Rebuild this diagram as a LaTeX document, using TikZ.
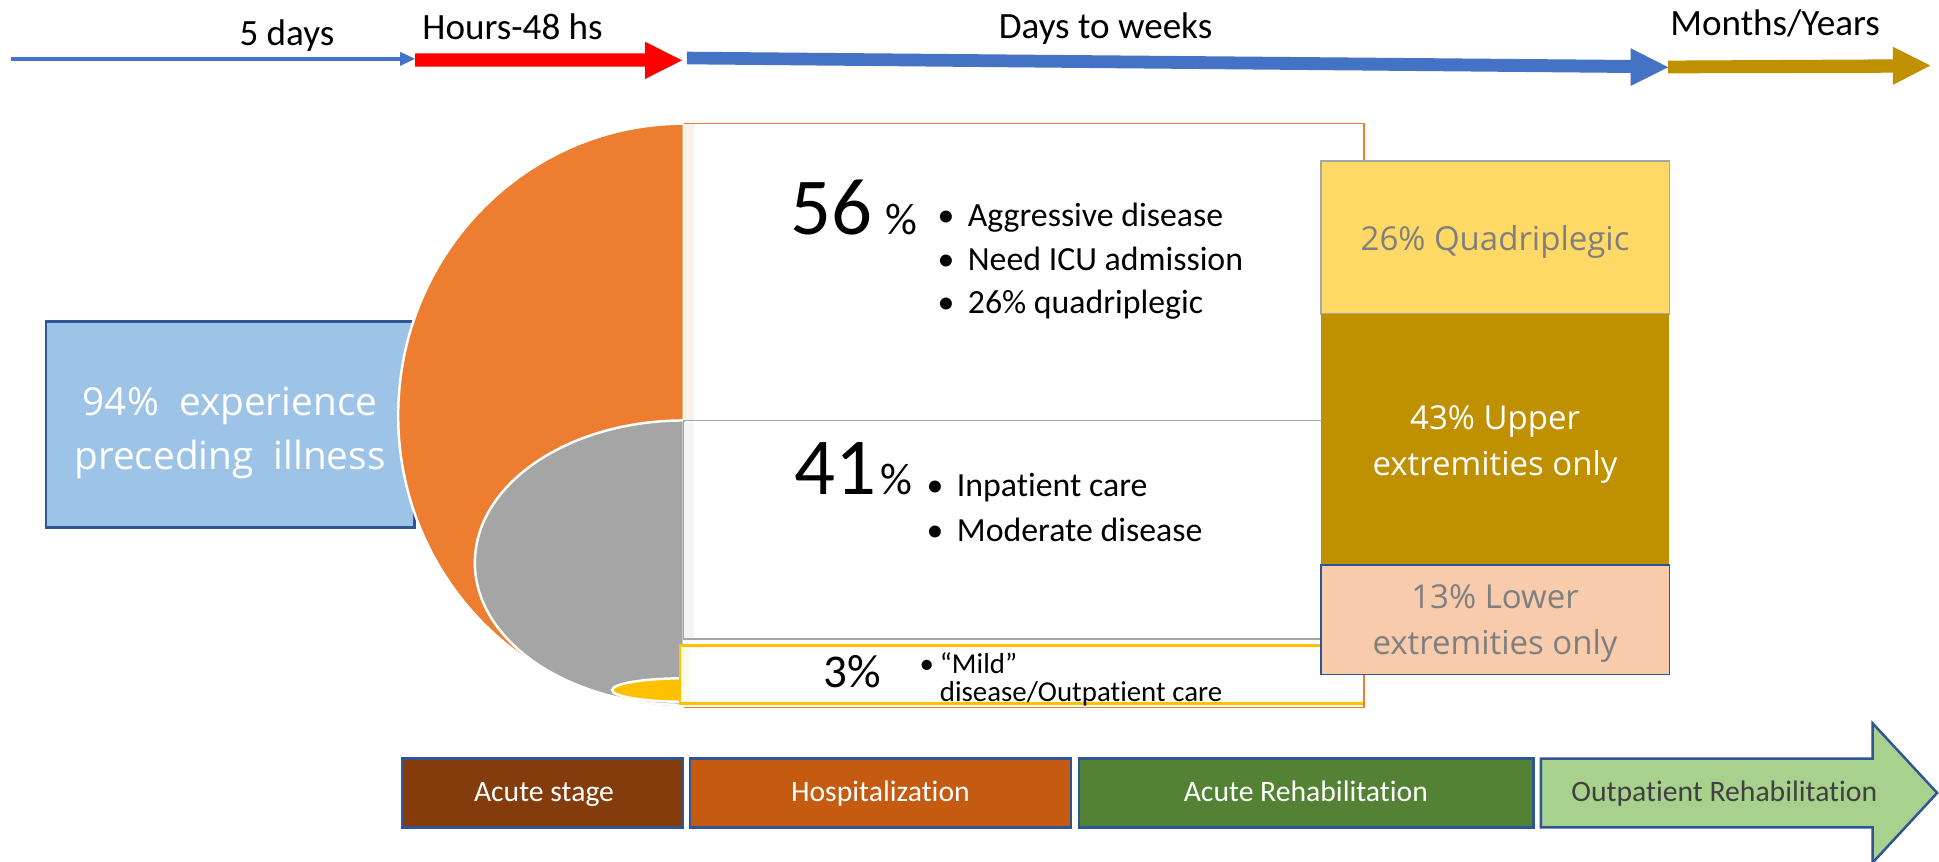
\documentclass[tikz,border=0pt]{standalone}
\usepackage{fontspec}
\setmainfont{Carlito}[Ligatures=NoCommon]
\newfontfamily\boxfont{Open Sans}

\definecolor{arrowblue}{RGB}{68,114,196}
\definecolor{arrowred}{RGB}{255,0,0}
\definecolor{arrowgold}{RGB}{191,144,0}
\definecolor{sevorange}{RGB}{237,125,49}
\definecolor{modgray}{RGB}{165,165,165}
\definecolor{mildyellow}{RGB}{255,192,0}
\definecolor{illblue}{RGB}{157,195,230}
\definecolor{edgeblue}{RGB}{47,85,151}
\definecolor{quadyellow}{RGB}{255,217,102}
\definecolor{lowerpink}{RGB}{248,203,173}
\definecolor{labelgray}{RGB}{127,127,127}
\definecolor{acutebrown}{RGB}{132,60,12}
\definecolor{hospbrown}{RGB}{197,90,17}
\definecolor{rehabgreen}{RGB}{84,130,53}
\definecolor{outgreen}{RGB}{169,209,142}
\definecolor{outtext}{RGB}{64,64,64}
\definecolor{peachstrip}{RGB}{252,241,232}
\definecolor{graystrip}{RGB}{244,244,244}
\definecolor{yellowstrip}{RGB}{255,249,234}

\newcommand{\bigbullet}{\makebox[18.3pt][l]{\textbullet}}
\newcommand{\smallbullet}{\makebox[12.3pt][l]{\textbullet}}

\tikzset{every picture/.style={line width=0.75pt}}
\tikzset{
  timelabel/.style={inner sep=0pt, anchor=base, font=\fontsize{22.5}{27}\selectfont},
  bignum/.style={inner sep=0pt, anchor=base, font=\fontsize{49}{59}\selectfont},
  pctsign/.style={inner sep=0pt, anchor=base, font=\fontsize{27}{32}\selectfont},
  bulletline/.style={inner sep=0pt, anchor=base west, font=\fontsize{20.5}{25}\selectfont},
  mildline/.style={inner sep=0pt, anchor=base west, font=\fontsize{17.5}{21}\selectfont},
  colline/.style={inner sep=0pt, anchor=base, font=\boxfont\fontsize{20}{24}\selectfont},
  illline/.style={inner sep=0pt, anchor=base, text=white, font=\boxfont\fontsize{23.5}{28}\selectfont},
  stageline/.style={inner sep=0pt, anchor=base, font=\fontsize{18}{22}\selectfont},
  stagebox/.style={draw=edgeblue, line width=1.5},
}

\begin{document}
\begin{tikzpicture}[x=0.75pt,y=0.75pt,yscale=-1,xscale=1]
\useasboundingbox (0,0) rectangle (1568,697);

%Straight Lines
\draw [color=arrowblue, line width=2.25]  (9,47.8) -- (324,47.8) ;
\draw [shift={(335.6,47.6)}, rotate = 0] [fill=arrowblue] [draw opacity=0] (-12.1,-5.7) -- (0,0) -- (-12.1,5.7) -- cycle    ;
%Right Arrow
\fill [color=arrowred] (335.6,43.1) -- (521.6,43.1) -- (521.6,33.7) -- (551.5,48.8) -- (521.6,63.9) -- (521.6,53.9) -- (335.6,53.9) -- cycle ;
%Right Arrow
\fill [color=arrowblue] (555.5,41.8) -- (1318.7,48.5) -- (1318.7,39) -- (1349,54.4) -- (1318.7,69.5) -- (1318.7,59) -- (555.5,52) -- cycle ;
%Right Arrow
\fill [color=arrowgold] (1349,49) -- (1530.6,48) -- (1530.6,37.8) -- (1561,53) -- (1530.6,68.7) -- (1530.6,58.8) -- (1349,59.3) -- cycle ;

% Text Node
\node [timelabel] (days5) at (232,36.8) {5 days};
% Text Node
\node [timelabel] (hours48) at (414.5,32.3) {Hours-48 hs};
% Text Node
\node [timelabel] (dayweeks) at (894,31) {Days to weeks};
% Text Node
\node [timelabel] (monthyears) at (1435.5,28.3) {Months/Years};

%Shape: Rectangle
\draw [color=edgeblue, fill=illblue, line width=1.5] (37,260) rectangle (335,426.5) ;
% Text Node
\node [illline] (illA) at (186,336) {94\%~~experience};
% Text Node
\node [illline] (illB) at (186,379.3) {preceding~~illness};

%Shape: Half Ellipse
\draw [color=white, fill=sevorange, line width=1.5] (553,100) arc [start angle=270, end angle=90, x radius=231, y radius=236] -- cycle ;
%Shape: Half Ellipse
\draw [color=white, fill=modgray, line width=1.5] (553,340) arc [start angle=270, end angle=90, x radius=169, y radius=115] -- cycle ;
%Shape: Half Ellipse
\draw [color=white, fill=mildyellow, line width=1.5] (553,548.5) arc [start angle=270, end angle=90, x radius=58, y radius=9.5] -- cycle ;

%Shape: Rectangle
\fill [color=white] (553,100) rectangle (1103,340) ;
\fill [color=peachstrip] (553,100.5) rectangle (561,339.5) ;
%Shape: Rectangle
\draw [color=modgray, fill=white, line width=1.1] (553,340) rectangle (1103,517) ;
\fill [color=graystrip] (553.5,341) rectangle (561,516) ;
%Shape: Rectangle
\draw [color=mildyellow, fill=white, line width=1.5] (550,522) rectangle (1103,569) ;
\fill [color=yellowstrip] (551,523) rectangle (558,568) ;
%Straight Lines
\draw [color=sevorange] (553,100) -- (1103,100) -- (1103,572) -- (553,572) ;

% Text Node
\node [bignum] (pct56) at (672.2,190) {56};
\node [pctsign] (pct56sign) at (728.7,190) {\%};
% Text Node
\node [bulletline] (aggr) at (757.8,183.4) {\bigbullet Aggressive disease};
\node [bulletline] (icu) at (757.8,218.7) {\bigbullet Need ICU admission};
\node [bulletline] (quadri) at (757.8,253.4) {\bigbullet 26\% quadriplegic};

% Text Node
\node [bignum] (pct41) at (675.6,400) {41};
\node [pctsign] (pct41sign) at (725,400) {\%};
% Text Node
\node [bulletline] (inpat) at (748.9,401.6) {\bigbullet Inpatient care};
\node [bulletline] (moder) at (748.9,437.9) {\bigbullet Moderate disease};

% Text Node
\node [inner sep=0pt, anchor=base, font=\fontsize{28.5}{34}\selectfont] (pct3) at (689.2,555.7) {3\%};
\node [mildline] (mildA) at (743.2,544.5) {\smallbullet “Mild”};
\node [mildline] (mildB) at (759.6,567.4) {disease/Outpatient care};

%Shape: Rectangle
\draw [color=modgray, fill=quadyellow, line width=1.1] (1068,130.5) rectangle (1350,254) ;
%Shape: Rectangle
\fill [color=arrowgold] (1068,254) rectangle (1350,457) ;
%Shape: Rectangle
\draw [color=edgeblue, fill=lowerpink, line width=1.1] (1068,457) rectangle (1350,545.5) ;

% Text Node
\node [colline, text=labelgray] (quad) at (1209,202.7) {26\% Quadriplegic};
\node [colline, text=white] (upperA) at (1209,347) {43\% Upper};
\node [colline, text=white] (upperB) at (1209,384.7) {extremities only};
\node [colline, text=labelgray] (lowerA) at (1209,492) {13\% Lower};
\node [colline, text=labelgray] (lowerB) at (1209,529) {extremities only};

%Shape: Rectangle
\draw [stagebox, fill=acutebrown] (325,613.5) rectangle (552.4,669) ;
%Shape: Rectangle
\draw [stagebox, fill=hospbrown] (558,613.5) rectangle (866,669) ;
%Shape: Rectangle
\draw [stagebox, fill=rehabgreen] (872.4,613.5) rectangle (1240,669) ;
%Right Arrow
\draw [stagebox, fill=outgreen] (1246,613.5) -- (1514.4,613.5) -- (1514.4,585) -- (1566.5,641.2) -- (1514.4,697.5) -- (1514.4,669) -- (1246,669) -- cycle ;

% Text Node
\node [stageline, text=white] (acute) at (439.9,648) {Acute stage};
\node [stageline, text=white] (hosp) at (712,648) {Hospitalization};
\node [stageline, text=white] (rehab) at (1056,648) {Acute Rehabilitation};
\node [stageline, text=outtext] (outrehab) at (1394.4,648) {Outpatient Rehabilitation};

\end{tikzpicture}
\end{document}
